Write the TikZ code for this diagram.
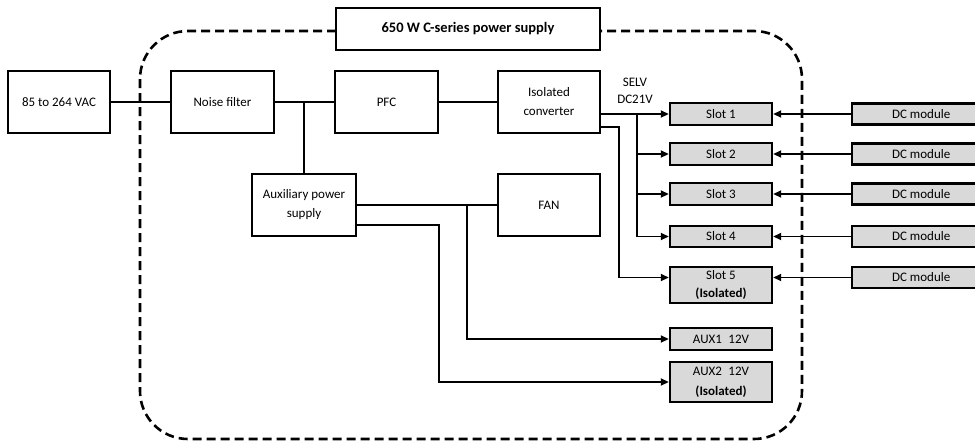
\documentclass[tikz,border=0pt]{standalone}
\usepackage{fontspec}
\setmainfont{Carlito}
\usetikzlibrary{arrows.meta,positioning,calc}
\definecolor{slotGray}{HTML}{D9D9D9}
\tikzset{
  blk/.style={draw, line width=1.6pt, fill=white, minimum width=102pt, minimum height=62pt,
    align=center, inner sep=1pt, font=\fontsize{13}{19}\selectfont},
  slotbox/.style={draw, line width=2.4pt, fill=slotGray, minimum width=102pt, minimum height=22pt,
    align=center, inner sep=1pt, font=\fontsize{13}{20}\selectfont},
  dcbox/.style={slotbox, align=none, anchor=west, minimum width=200pt, minimum height=21pt},
  wire/.style={line width=1.8pt},
  feed/.style={wire, -{Triangle[length=8pt,width=7pt]}},
}

\begin{document}
\begin{tikzpicture}[x=1pt, y=-1pt, font=\fontsize{13}{15}\selectfont]
\useasboundingbox (0,0) rectangle (975,440);
\clip (0,0) rectangle (975,440);
% dashed enclosure of the supply
\draw[line width=2.6pt, dash pattern=on 9pt off 5pt, rounded corners=48pt] (140,31) rectangle (802,439);
\node[blk, minimum width=264pt, minimum height=42pt, font=\fontsize{14.5}{16}\bfseries] (title) at (468,29) {650 W C-series power supply};
% main chain
\node[blk] (vac) at (59,102) {85 to 264 VAC};
\node[blk, minimum width=103pt] (noise) at (222.5,102) {Noise filter};
\node[blk, minimum width=103pt] (pfc) at (386.5,102) {PFC};
\node[blk] (iso) at (549,102) {Isolated\\converter};
\node[blk, minimum width=104pt] (aux) at (304,205) {Auxiliary power\\supply};
\node[blk] (fan) at (549,205) {FAN};
\node[align=center, font=\fontsize{13}{17}\selectfont] (selv) at (635,91) {SELV\\DC21V};
% slots
\node[slotbox] (slot1) at (721,114) {Slot 1};
\node[slotbox] (slot2) at (721,154) {Slot 2};
\node[slotbox] (slot3) at (721,194) {Slot 3};
\node[slotbox, minimum height=21pt] (slot4) at (721,236.5) {Slot 4};
\node[slotbox, minimum height=36pt] (slot5) at (721,285) {Slot 5\\[-2pt]\textbf{(Isolated)}};
\node[slotbox] (aux1) at (721,339) {AUX1\enspace 12V};
\node[slotbox, minimum height=40pt] (aux2) at (721,382) {AUX2\enspace 12V\\\textbf{(Isolated)}};
% DC modules, cut by the right edge
\foreach \s/\y in {1/114,2/154,3/194,4/236.5,5/277.5}
  \node[dcbox] (dc\s) at (851,\y) {DC module\hspace*{62pt}};
% wiring
\draw[wire] (vac) -- (noise);
\draw[wire] (noise) -- (pfc);
\draw[wire] (pfc) -- (iso);
\coordinate (nfTap) at (aux.north |- noise.east);
\draw[wire] (nfTap) -- (aux.north);
\coordinate (busTop) at ($(iso.east |- slot1.west)+(36,0)$);
\draw[feed] (iso.east |- slot1.west) -- (slot1.west);
\draw[feed] (busTop) |- (slot4.west);
\foreach \s in {2,3}
  \draw[feed] (busTop |- slot\s.west) -- (slot\s.west);
\coordinate (isoOut2) at ($(iso.east)+(0,25)$);
\coordinate (s5in) at (slot5.west |- dc5.west);
\draw[feed] (isoOut2) -- ++(18,0) |- (s5in);
\foreach \s in {1,...,4}
  \draw[feed] (dc\s) -- (slot\s.east);
\draw[feed] (dc5) -- (slot5.east |- dc5.west);
\draw[wire] (aux) -- (fan);
\coordinate (fanTap) at ($(fan.west)+(-30,0)$);
\draw[feed] (fanTap) |- (aux1.west);
\coordinate (auxOut2) at ($(aux.east)+(0,20)$);
\coordinate (auxBend) at (pfc.east |- aux2.west);
\draw[feed] (auxOut2) -| (auxBend) -- (aux2.west);
\end{tikzpicture}
\end{document}
